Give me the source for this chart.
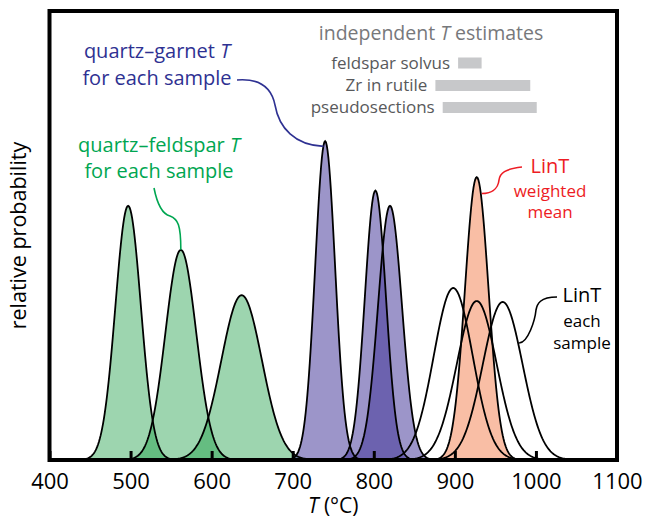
<!DOCTYPE html>
<html>
<head>
<meta charset="utf-8">
<script src="https://cdn.jsdelivr.net/npm/d3@7"></script>
<style>
  body { margin: 0; background: #fff; }
  text { font-family: "Open Sans", sans-serif; }
</style>
</head>
<body>
<div id="chart"></div>
<script>
const xTicks = [400, 500, 600, 700, 800, 900, 1000, 1100]

// quartz-feldspar T, one curve per sample
const qfMean = [497, 562, 637]
const qfSigma = [15.7, 19, 25]
const qfPeak = [0.566, 0.468, 0.367]

// quartz-garnet T, one curve per sample
const qgMean = [740, 802, 820]
const qgSigma = [12.3, 13, 14.8]
const qgPeak = [0.71, 0.6, 0.566]

// LinT, each sample
const lintMean = [898, 927, 959]
const lintSigma = [24, 24.5, 24.5]
const lintPeak = [0.383, 0.354, 0.352]

// LinT weighted mean
const wmMean = [927]
const wmSigma = [14.5]
const wmPeak = [0.63]

// independent T estimates
const estNames = ["feldspar solvus", "Zr in rutile", "pseudosections"]
const estLow = [904, 876, 885]
const estHigh = [933, 993, 1001]

const width = 646
const height = 519
const margin = { top: 11, right: 29, bottom: 59, left: 49.5 }

const xScale = d3
  .scaleLinear()
  .domain([400, 1100])
  .range([margin.left, width - margin.right])
const yScale = d3
  .scaleLinear()
  .domain([0, 1])
  .range([height - margin.bottom, margin.top])

const temps = d3.range(400, 1100.5, 1)
const curve = (mu, sd, peak) =>
  temps.map(t => ({ t, p: peak * Math.exp(-0.5 * ((t - mu) / sd) ** 2) }))

const area = d3
  .area()
  .x(d => xScale(d.t))
  .y0(yScale(0))
  .y1(d => yScale(d.p))
const line = d3
  .line()
  .x(d => xScale(d.t))
  .y(d => yScale(d.p))

const groups = [
  { mean: qfMean, sd: qfSigma, peak: qfPeak, fill: "rgb(27,157,69)", op: 0.43 },
  { mean: qgMean, sd: qgSigma, peak: qgPeak, fill: "rgb(65,51,151)", op: 0.52 },
  { mean: wmMean, sd: wmSigma, peak: wmPeak, fill: "rgb(246,150,110)", op: 0.62 },
  { mean: lintMean, sd: lintSigma, peak: lintPeak, fill: "none", op: 0 },
]
groups.forEach(g => {
  g.curves = g.mean.map((m, i) => curve(m, g.sd[i], g.peak[i]))
})

const svg = d3
  .select("#chart")
  .append("svg")
  .attr("width", width)
  .attr("height", height)

svg
  .append("clipPath")
  .attr("id", "plot")
  .append("rect")
  .attr("x", xScale(400))
  .attr("y", yScale(1))
  .attr("width", xScale(1100) - xScale(400))
  .attr("height", yScale(0) - yScale(1))

const plot = svg.append("g").attr("clip-path", "url(#plot)")

groups
  .filter(g => g.fill !== "none")
  .forEach(g => {
    plot
      .append("g")
      .selectAll("path")
      .data(g.curves)
      .enter()
      .append("path")
      .attr("d", area)
      .attr("fill", g.fill)
      .attr("fill-opacity", g.op)
  })

groups.forEach(g => {
  plot
    .append("g")
    .selectAll("path")
    .data(g.curves)
    .enter()
    .append("path")
    .attr("d", line)
    .attr("fill", "none")
    .attr("stroke", "#000")
    .attr("stroke-width", 1.8)
})

// x axis, ticks pointing inwards
const xAxis = svg
  .append("g")
  .attr("transform", "translate(0," + yScale(0) + ")")
  .call(
    d3
      .axisBottom(xScale)
      .tickValues(xTicks)
      .tickFormat(d3.format("d"))
      .tickSizeInner(-9)
      .tickSizeOuter(0)
      .tickPadding(13)
  )
xAxis.select(".domain").remove()
xAxis.selectAll(".tick line").attr("stroke", "#000").attr("stroke-width", 3)
xAxis
  .selectAll(".tick text")
  .attr("fill", "#000")
  .style("font-size", "22px")

// frame
svg
  .append("rect")
  .attr("x", xScale(400))
  .attr("y", yScale(1))
  .attr("width", xScale(1100) - xScale(400))
  .attr("height", yScale(0) - yScale(1))
  .attr("fill", "none")
  .attr("stroke", "#000")
  .attr("stroke-width", 4)

const xTitle = svg
  .append("text")
  .attr("x", (xScale(400) + xScale(1100)) / 2)
  .attr("y", 513)
  .attr("text-anchor", "middle")
  .style("font-size", "21px")
xTitle.append("tspan").style("font-style", "italic").text("T")
xTitle.append("tspan").text(" (°C)")

svg
  .append("text")
  .attr("transform", "translate(26," + (yScale(0) + yScale(1)) / 2 + ") rotate(-90)")
  .attr("text-anchor", "middle")
  .style("font-size", "21.5px")
  .text("relative probability")

// independent estimates
const est = svg.append("g")
const estTitle = est
  .append("text")
  .attr("x", 431)
  .attr("y", 40)
  .attr("text-anchor", "middle")
  .attr("fill", "#77787b")
  .style("font-size", "19.5px")
estTitle.append("tspan").text("independent ")
estTitle.append("tspan").style("font-style", "italic").text("T")
estTitle.append("tspan").text(" estimates")

const rowY = [63, 85.5, 107.5]
est
  .selectAll("rect")
  .data(estNames)
  .enter()
  .append("rect")
  .attr("x", (d, i) => xScale(estLow[i]))
  .attr("y", (d, i) => rowY[i] - 5.5)
  .attr("width", (d, i) => xScale(estHigh[i]) - xScale(estLow[i]))
  .attr("height", 11)
  .attr("fill", "#c7c8ca")
est
  .selectAll(".lbl")
  .data(estNames)
  .enter()
  .append("text")
  .attr("class", "lbl")
  .attr("x", (d, i) => xScale(estLow[i]) - 8)
  .attr("y", (d, i) => rowY[i] + 5.5)
  .attr("text-anchor", "end")
  .attr("fill", "#58595b")
  .style("font-size", "17px")
  .text(d => d)

// annotations
const ann = (lines, x, color) => {
  const t = svg
    .append("text")
    .attr("text-anchor", "middle")
    .attr("fill", color)
  lines.forEach(l => {
    const s = t
      .append("tspan")
      .attr("x", x)
      .attr("y", l.y)
      .style("font-size", l.size + "px")
    s.append("tspan").text(l.text)
    if (l.it) s.append("tspan").style("font-style", "italic").text(l.it)
  })
}
ann([{ text: "quartz–garnet ", it: "T", y: 58, size: 20 }, { text: "for each sample", y: 85, size: 20 }], 157, "#2e3192")
ann([{ text: "quartz–feldspar ", it: "T", y: 152, size: 20 }, { text: "for each sample", y: 178, size: 20 }], 159, "#00a651")
ann([{ text: "LinT", y: 173, size: 20 }, { text: "weighted", y: 197, size: 17 }, { text: "mean", y: 218, size: 17 }], 550, "#ed1c24")
ann([{ text: "LinT", y: 302, size: 20 }, { text: "each", y: 327, size: 17 }, { text: "sample", y: 349, size: 17 }], 582, "#000")

const gauss = (g, i, t) => g.peak[i] * Math.exp(-0.5 * ((t - g.mean[i]) / g.sd[i]) ** 2)
const leader = (d, color) =>
  svg
    .append("path")
    .attr("d", d)
    .attr("fill", "none")
    .attr("stroke", color)
    .attr("stroke-width", 1.6)

const qgEnd = [xScale(738), yScale(gauss(groups[1], 0, 738))]
leader(`M237,80 C262,78 272,90 275,105 C279,128 295,${qgEnd[1]} ${qgEnd[0]},${qgEnd[1] + 1}`, "#2e3192")
const qfEnd = [xScale(qfMean[1]), yScale(qfPeak[1])]
leader(`M154,188 C157,203 162,214 170,216 C178,219 ${qfEnd[0]},225 ${qfEnd[0]},${qfEnd[1]}`, "#00a651")
const wmEnd = [xScale(932), yScale(gauss(groups[2], 0, 932))]
leader(`M522,167 C505,169 500,173 499,180 C498,190 490,${wmEnd[1]} ${wmEnd[0] + 1},${wmEnd[1]}`, "#ed1c24")
const ltEnd = [xScale(978), yScale(gauss(groups[3], 2, 978))]
leader(`M557,297 C540,297 537,304 536,310 C535,320 528,${ltEnd[1]} ${ltEnd[0] + 1},${ltEnd[1]}`, "#000")
</script>
</body>
</html>
